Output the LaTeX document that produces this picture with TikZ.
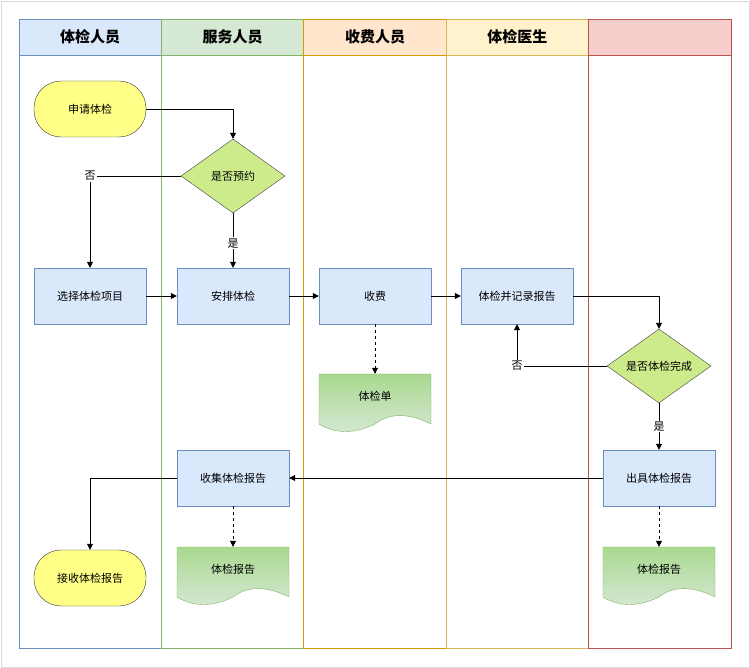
\documentclass[tikz,border=0pt]{standalone}
\usepackage{fontspec}
\setmainfont{Noto Sans CJK SC}
\usetikzlibrary{arrows.meta,shapes.geometric}
\definecolor{bluef}{HTML}{DAE8FC}\definecolor{blued}{HTML}{6C8EBF}
\definecolor{greenf}{HTML}{D5E8D4}\definecolor{greend}{HTML}{82B366}
\definecolor{orangef}{HTML}{FFE6CC}\definecolor{oranged}{HTML}{D79B00}
\definecolor{yellowf}{HTML}{FFF2CC}\definecolor{yellowd}{HTML}{D6B656}
\definecolor{redf}{HTML}{F8CECC}\definecolor{redd}{HTML}{B85450}
\definecolor{startf}{HTML}{FFFF88}\definecolor{decf}{HTML}{CDEB8B}
\definecolor{docf}{HTML}{A9D98F}
\tikzset{
  lane/.style={draw=#1, line width=0.8pt},
  head/.style={font=\bfseries\fontsize{15}{18}\selectfont},
  proc/.style={draw=blued, fill=bluef, minimum width=112pt, minimum height=56pt, font=\fontsize{11}{13}\selectfont},
  term/.style={draw=black!80, fill=startf, rounded corners=27pt, minimum width=112pt, minimum height=56pt, font=\fontsize{11}{13}\selectfont},
  decide/.style={diamond, draw=black!75, fill=decf, aspect=1.4, minimum width=104pt, minimum height=74pt, inner sep=0pt, font=\fontsize{11}{13}\selectfont},
  doc/.style={draw=none, minimum width=112pt, minimum height=44pt, font=\fontsize{11}{13}\selectfont},
  flow/.style={-{Triangle[length=6pt,width=6pt]}, black, line width=0.8pt},
  dflow/.style={flow, dashed},
  tag/.style={fill=white, inner sep=1pt, font=\fontsize{11}{13}\selectfont}
}
\newcommand{\docbox}[4]{%
  \shade[draw=greend, top color=docf, bottom color=greenf]
    (#2-56,#3-28) -- (#2+56,#3-28) -- (#2+56,#3+22)
    .. controls (#2+28,#3+8) and (#2+10,#3+14) .. (#2,#3+22)
    .. controls (#2-20,#3+32) and (#2-40,#3+32) .. (#2-56,#3+22) -- cycle;
  \node[doc] (#1) at (#2,#3-6) {#4};}
\begin{document}
\begin{tikzpicture}[x=1pt, y=-1pt]
\useasboundingbox (0,0) rectangle (750,668);
\draw[black!15] (1,1) rectangle (749,667);
% swimlanes
\foreach \i/\col/\txt in {0/blue/体检人员, 1/green/服务人员, 2/orange/收费人员, 3/yellow/体检医生, 4/red/{}} {
  \draw[lane=\col d, fill=\col f] (19+142.4*\i,19) rectangle (19+142.4*\i+142.4,55);
  \draw[lane=\col d] (19+142.4*\i,55) rectangle (19+142.4*\i+142.4,648);
  \node[head] (h\i) at (19+142.4*\i+71.2,37) {\txt};
}
% nodes
\node[term] (apply) at (90,109) {申请体检};
\node[decide] (booked) at (233,176) {是否预约};
\node[proc] (choose) at (90,296) {选择体检项目};
\node[proc] (arrange) at (233,296) {安排体检};
\node[proc] (pay) at (375,296) {收费};
\node[proc] (exam) at (517,296) {体检并记录报告};
\node[decide] (done) at (659,366) {是否体检完成};
\node[proc] (issue) at (659,478) {出具体检报告};
\node[proc] (collect) at (233,478) {收集体检报告};
\node[term] (receive) at (90,578) {接收体检报告};
\docbox{sheet}{375}{402}{体检单}
\docbox{rep1}{233}{575}{体检报告}
\docbox{rep2}{659}{575}{体检报告}
% connectors
\draw[flow] (apply.east) -| (booked.north);
\draw[flow] (booked.west) -| node[tag, pos=0.5] {否} (choose.north);
\draw[flow] (booked.south) -- node[tag, pos=0.55] {是} (arrange.north);
\draw[flow] (choose) -- (arrange);
\draw[flow] (arrange) -- (pay);
\draw[flow] (pay) -- (exam);
\draw[flow] (exam.east) -| (done.north);
\draw[flow] (done.west) -| node[tag, pos=0.5] {否} (exam.south);
\draw[flow] (done.south) -- node[tag, pos=0.5] {是} (issue.north);
\draw[flow] (issue) -- (collect);
\draw[flow] (collect.west) -| (receive.north);
\draw[dflow] (pay.south) -- (sheet.north);
\draw[dflow] (collect.south) -- (rep1.north);
\draw[dflow] (issue.south) -- (rep2.north);
\end{tikzpicture}
\end{document}
